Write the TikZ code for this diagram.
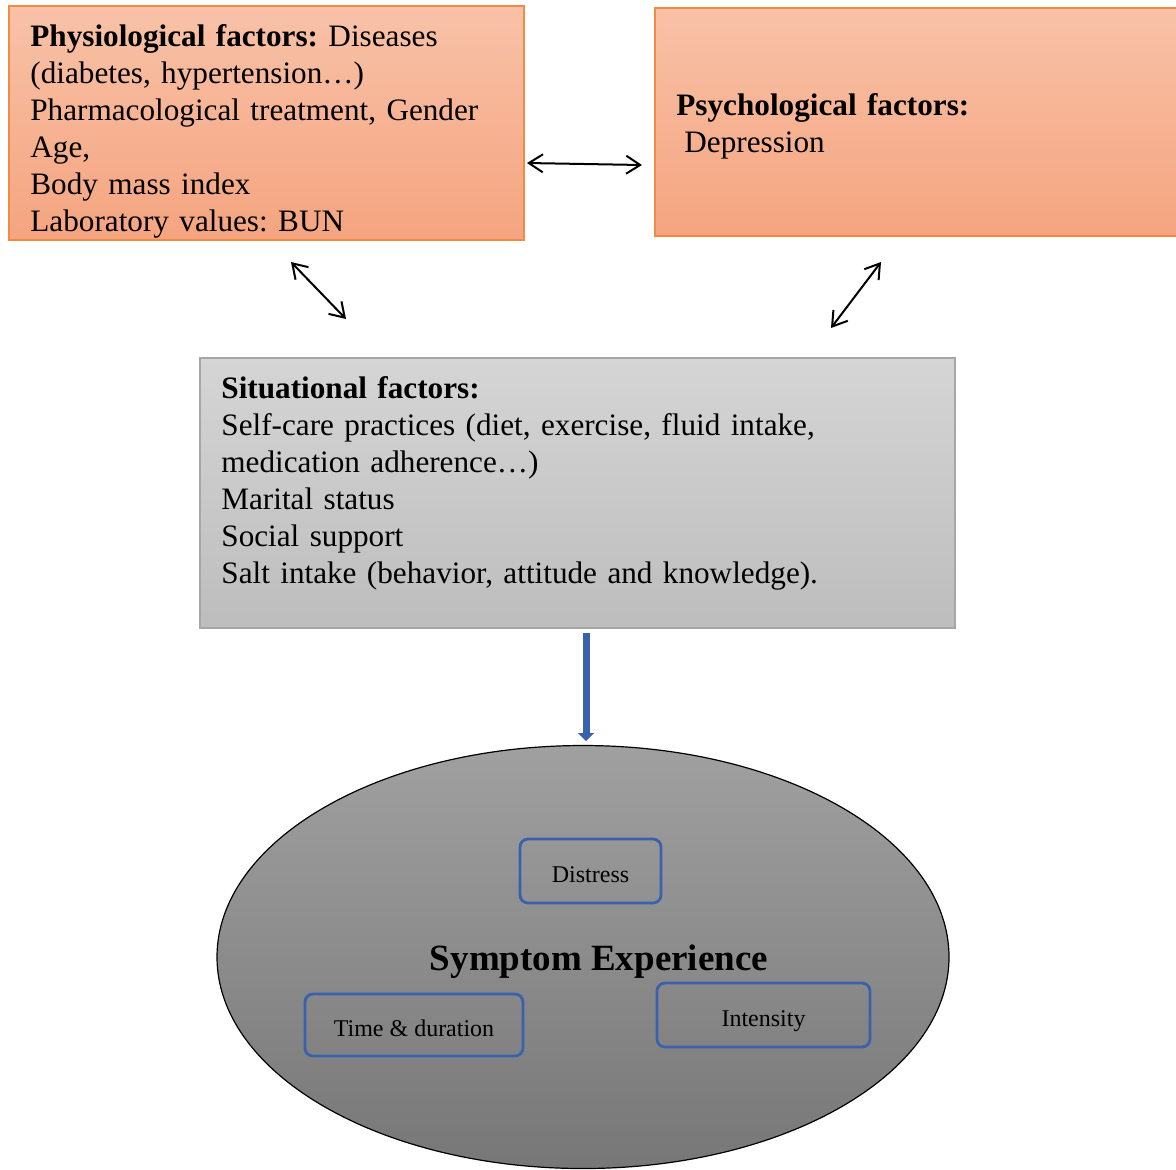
\documentclass[tikz,border=0pt]{standalone}
\usepackage{fontspec}
\setmainfont{Liberation Serif}
\usepackage{tikz}
\usetikzlibrary{arrows.meta}
\usetikzlibrary{shapes.geometric}
\frenchspacing
\definecolor{physedge}{HTML}{F08A45}
\definecolor{phystop}{HTML}{F8C2A8}
\definecolor{physbot}{HTML}{F5A47F}
\definecolor{situedge}{HTML}{A6A6A6}
\definecolor{situtop}{HTML}{D5D5D5}
\definecolor{situbot}{HTML}{BDBDBD}
\definecolor{symptop}{HTML}{A0A0A0}
\definecolor{sympbot}{HTML}{777777}
\definecolor{dimblue}{HTML}{3A62AC}
\tikzset{%
  orangebox/.style={draw=physedge, line width=0.6pt, top color=phystop, bottom color=physbot, inner sep=0pt},
  graybox/.style={draw=situedge, line width=0.6pt, top color=situtop, bottom color=situbot, inner sep=0pt},
  boxtext/.style={inner sep=0pt, align=left, font=\fontsize{15.6}{18.5}\selectfont},
  dimbox/.style={draw=dimblue, line width=1.4pt, rounded corners=4pt, text height=11.5pt, text depth=0pt, font=\fontsize{12}{14}\selectfont},
  linkarrow/.style={{Straight Barb[length=7pt,width=9pt]}-{Straight Barb[length=7pt,width=9pt]}, line width=1pt},
  flowarrow/.style={-{Triangle[length=4pt,width=8pt]}, draw=dimblue, line width=3.5pt}
}

\begin{document}
\begin{tikzpicture}[x=0.5pt,y=-0.5pt]%
        \useasboundingbox (0,0) rectangle (1176,1169);%
        % factor boxes
        \node[orangebox, minimum width=257.5pt, minimum height=117pt] (phys) at (266.5,123) {};%
        \node[orangebox, minimum width=265pt, minimum height=114pt] (psych) at (920,122) {};%
        \node[graybox, minimum width=377.5pt, minimum height=135pt] (situ) at (577.5,493) {};%
        \node[boxtext, anchor=base west, text width=250pt] (physlbl) at (30,46)
          {\textbf{Physiological factors:} Diseases\\(diabetes, hypertension\ldots)\\Pharmacological treatment, Gender\\Age,\\Body mass index\\Laboratory values: BUN};%
        \node[boxtext, anchor=base west, text width=250pt] (psychlbl) at (676,115)
          {\textbf{Psychological factors:}\\\hspace*{4pt}Depression};%
        \node[boxtext, anchor=base west, text width=370pt] (situlbl) at (221,398)
          {\textbf{Situational factors:}\\Self-care practices (diet, exercise, fluid intake,\\medication adherence\ldots)\\Marital status\\Social support\\Salt intake (behavior, attitude and knowledge).};%
        % symptom experience
        \node[ellipse, draw, line width=0.6pt, top color=symptop, bottom color=sympbot, minimum width=366pt, minimum height=211.5pt] (symp) at (583,957) {};%
        \node[font=\bfseries\fontsize{18.5}{22}\selectfont, anchor=base] (symplbl) at (599,970) {Symptom Experience};%
        \node[dimbox, minimum width=70.5pt, minimum height=32pt] (distress) at (590.5,871) {Distress};%
        \node[dimbox, minimum width=109pt, minimum height=31pt] (timedur) at (414,1025) {Time \& duration};%
        \node[dimbox, minimum width=106.5pt, minimum height=32pt] (intens) at (763.5,1015) {Intensity};%
        % arrow ends
        \coordinate (ph) at (527,163);%
        \coordinate (ps) at (642,165);%
        \coordinate (phd) at (291,262);%
        \coordinate (sil) at (346,319);%
        \coordinate (psd) at (881,262);%
        \coordinate (sir) at (831,328);%
        \coordinate (sib) at (586,633);%
        \coordinate (syt) at (586,741);%
        \draw[linkarrow] (ph) -- (ps); %
        \draw[linkarrow] (phd) -- (sil); %
        \draw[linkarrow] (psd) -- (sir); %
        \draw[flowarrow] (sib) -- (syt); %
      \end{tikzpicture}
\end{document}
